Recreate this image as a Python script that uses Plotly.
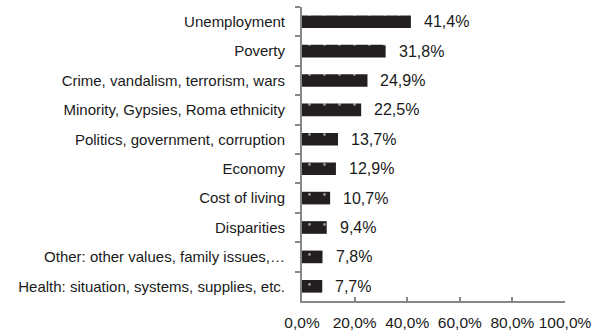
import plotly.graph_objects as go

categories = [
    "Unemployment",
    "Poverty",
    "Crime, vandalism, terrorism, wars",
    "Minority, Gypsies, Roma ethnicity",
    "Politics, government, corruption",
    "Economy",
    "Cost of living",
    "Disparities",
    "Other: other values, family issues,\u2026",
    "Health: situation, systems, supplies, etc.",
]
shares = [41.4, 31.8, 24.9, 22.5, 13.7, 12.9, 10.7, 9.4, 7.8, 7.7]
x_ticks = [0, 20, 40, 60, 80, 100]
x_tick_labels = ["0,0%", "20,0%", "40,0%", "60,0%", "80,0%", "100,0%"]

font_family = "Liberation Sans, Arial, sans-serif"

fig = go.Figure(
    go.Bar(
        x=shares,
        y=categories,
        orientation="h",
        marker=dict(
            color="#231f20",
            line=dict(width=0),
            pattern=dict(shape=".", fgcolor="#ffffff", bgcolor="#231f20",
                         size=15, solidity=0.03, fillmode="overlay"),
        ),
        width=0.43,
        hoverinfo="skip",
    )
)

for cat, val in zip(categories, shares):
    fig.add_annotation(
        x=val, y=cat, xref="x", yref="y",
        text=f"{val:.1f}%".replace(".", ","),
        showarrow=False, xanchor="left", yanchor="middle", xshift=11,
        font=dict(family=font_family, size=16, color="#1a1a1a"),
    )

fig.update_layout(
    width=597, height=333,
    margin=dict(l=302, r=32, t=7, b=32, autoexpand=False),
    paper_bgcolor="white", plot_bgcolor="white",
    showlegend=False,
    font=dict(family=font_family, size=15, color="#1a1a1a"),
)
fig.update_xaxes(
    range=[0, 100], tickvals=x_ticks, ticktext=x_tick_labels,
    showgrid=False, zeroline=False, automargin=False, tickangle=0,
    showline=True, linecolor="#868686", linewidth=2,
    ticks="inside", ticklen=4, tickcolor="#868686", tickwidth=2,
    tickfont=dict(size=15.5),
    ticklabelstandoff=6,
)
fig.update_yaxes(
    autorange="reversed", showgrid=False, zeroline=False, automargin=False,
    showline=True, linecolor="#868686", linewidth=2,
    ticks="outside", ticklen=5, tickcolor="#868686", tickwidth=2,
    tickson="boundaries",
    tickfont=dict(size=15),
    ticklabelstandoff=12,
)

fig.write_html("out.html")
